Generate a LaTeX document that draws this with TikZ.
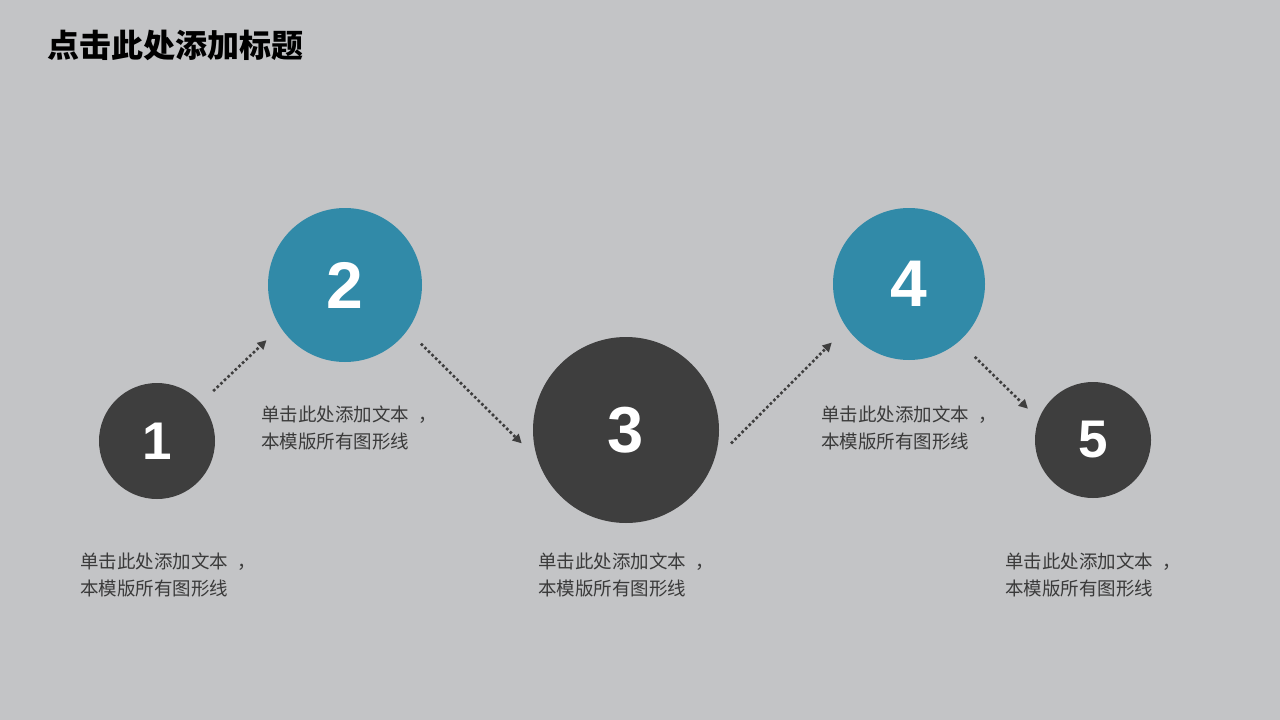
\documentclass[tikz,border=0pt]{standalone}
\usepackage{fontspec}
\setmainfont{Liberation Sans}
\newfontfamily\cjk{Noto Sans CJK SC}
\usetikzlibrary{arrows.meta}
\definecolor{bg}{HTML}{C3C4C6}
\definecolor{teal}{HTML}{318AA8}
\definecolor{dark}{HTML}{3E3E3E}
\definecolor{txt}{HTML}{3A3A3A}

\begin{document}
\begin{tikzpicture}[x=1pt,y=-1pt,
    ball/.style={circle, inner sep=0pt, text=white, font=\bfseries},
    note/.style={anchor=west, inner sep=0pt, align=left, text=txt,
        font=\cjk\fontsize{18.5}{27}\selectfont},
    link/.style={draw=dark, line width=2.6pt, dash pattern=on 2.6pt off 2.4pt,
        -{Triangle[length=9pt,width=9pt]}}]

    \fill[bg] (0,0) rectangle (1280,720);

    \node[anchor=west, inner sep=0pt, font=\cjk\bfseries\fontsize{32}{32}\selectfont] (title) at (47,45) {点击此处添加标题};

    \node[ball, fill=dark, minimum size=116pt, font=\bfseries\fontsize{53}{53}\selectfont] (c1) at (157,441) {1};
    \node[ball, fill=teal, minimum size=154pt, font=\bfseries\fontsize{66}{66}\selectfont] (c2) at (345,285) {2};
    \node[ball, fill=dark, minimum size=186pt, font=\bfseries\fontsize{65}{65}\selectfont] (c3) at (626,430) {3};
    \node[ball, fill=teal, minimum size=152pt, font=\bfseries\fontsize{66}{66}\selectfont] (c4) at (909,284) {4};
    \node[ball, fill=dark, minimum size=116pt, font=\bfseries\fontsize{53}{53}\selectfont] (c5) at (1093,440) {5};

    \node[note] (t1) at (80,575) {单击此处添加文本\kern0.5em，\\本模版所有图形线};
    \node[note] (t2) at (261,428) {单击此处添加文本\kern0.5em，\\本模版所有图形线};
    \node[note] (t3) at (538,575) {单击此处添加文本\kern0.5em，\\本模版所有图形线};
    \node[note] (t4) at (821,428) {单击此处添加文本\kern0.5em，\\本模版所有图形线};
    \node[note] (t5) at (1005,575) {单击此处添加文本\kern0.5em，\\本模版所有图形线};

    \draw[link, shorten <=17pt, shorten >=19pt] (c1.41) -- (c2.213);
    \draw[link, shorten <=19pt, shorten >=22pt] (c2.-36) -- (c3.198);
    \draw[link, shorten <=24pt, shorten >=21pt] (c3.-19) -- (c4.215);
    \draw[link, shorten <=22pt, shorten >=15pt] (c4.-49) -- (c5.159);

\end{tikzpicture}
\end{document}
